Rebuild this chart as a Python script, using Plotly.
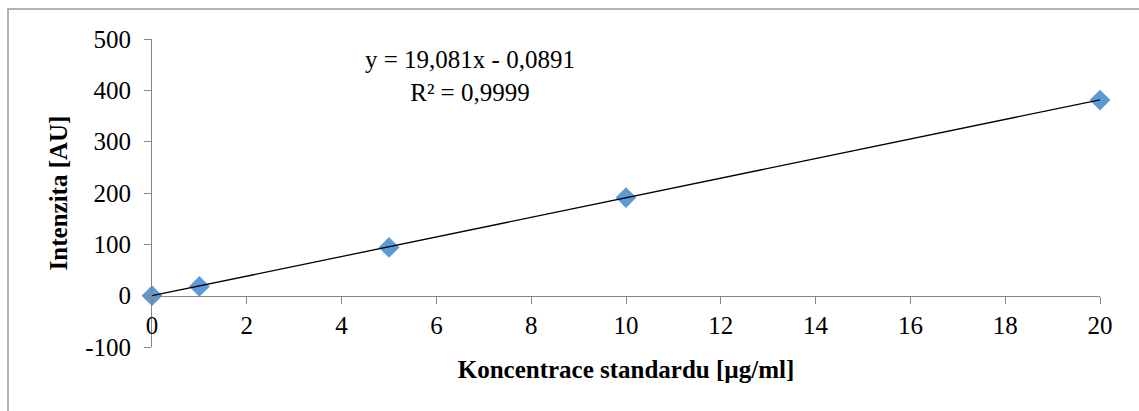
import plotly.graph_objects as go

# Calibration standard: concentration vs. measured intensity
concentration = [0, 1, 5, 10, 20]
intensity = [0, 18, 94, 191, 381]

# Linear fit parameters shown in the equation label
slope = 19.081
intercept = -0.0891
r_squared = 0.9999

x_ticks = [0, 2, 4, 6, 8, 10, 12, 14, 16, 18, 20]
y_ticks = [-100, 0, 100, 200, 300, 400, 500]

x_range = [0, 20]
y_range = [-100, 500]

font_family = "Liberation Serif"
axis_grey = "#868686"
fs = 25

fit_x = [x_range[0], x_range[1]]
fit_y = [slope * v + intercept for v in fit_x]

fig = go.Figure()

fig.add_trace(go.Scatter(
    x=concentration, y=intensity, mode="markers",
    marker=dict(symbol="diamond", size=16, color="#5B9BD5", line=dict(width=0)),
    showlegend=False, cliponaxis=False,
))

fig.add_trace(go.Scatter(
    x=fit_x, y=fit_y, mode="lines",
    line=dict(color="black", width=1.3),
    showlegend=False, cliponaxis=False,
))

# x axis crosses the y axis at y = 0
zero_frac = (0 - y_range[0]) / (y_range[1] - y_range[0])

fig.update_layout(
    width=1139, height=411,
    margin=dict(l=152, r=39, t=39, b=64),
    paper_bgcolor="white", plot_bgcolor="white",
    font=dict(family=font_family, size=fs, color="black"),
    xaxis=dict(
        range=x_range, tickvals=x_ticks, ticktext=[str(v) for v in x_ticks],
        tickfont=dict(family=font_family, size=fs, color="black"),
        anchor="free", position=zero_frac,
        showline=True, linecolor=axis_grey, linewidth=1,
        ticks="outside", ticklen=7, tickcolor=axis_grey, tickwidth=1,
        showgrid=False, zeroline=False,
        title=dict(text="<b>Koncentrace standardu [µg/ml]</b>",
                   font=dict(family=font_family, size=fs), standoff=22),
    ),
    yaxis=dict(
        range=y_range, tickvals=y_ticks, ticktext=[str(v) for v in y_ticks],
        tickfont=dict(family=font_family, size=fs, color="black"),
        ticklabelstandoff=8,
        showline=True, linecolor=axis_grey, linewidth=1,
        ticks="outside", ticklen=7, tickcolor=axis_grey, tickwidth=1,
        showgrid=False, zeroline=False,
        title=dict(text="<b>Intenzita [AU]</b>",
                   font=dict(family=font_family, size=fs), standoff=10),
    ),
    annotations=[
        dict(
            text=("y = " + f"{slope:.3f}".replace(".", ",") + "x - "
                  + f"{abs(intercept):.4f}".replace(".", ",")
                  + "<br>R² = " + f"{r_squared:.4f}".replace(".", ",")),
            xref="x", yref="paper", x=6.7, y=0.984, yanchor="top",
            showarrow=False, align="center",
            font=dict(family=font_family, size=fs),
        )
    ],
    shapes=[
        dict(type="rect", xref="paper", yref="paper",
             x0=-0.1519, y0=-1.0, x1=2.0, y1=1.0974,
             line=dict(color="#9a9a9a", width=1.5), fillcolor="rgba(0,0,0,0)",
             layer="below"),
    ],
)

fig.write_html("out.html")
